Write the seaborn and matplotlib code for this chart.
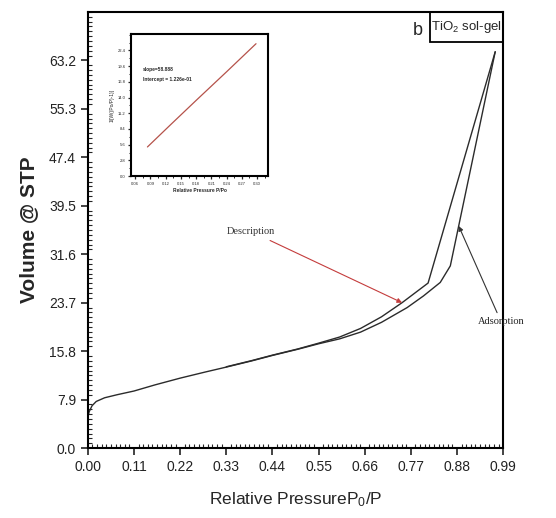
import numpy as np
import pandas as pd
import matplotlib
matplotlib.use('Agg')
import matplotlib.pyplot as plt
import matplotlib.patches as patches
from matplotlib.ticker import AutoMinorLocator
import seaborn as sns

# isotherm data
p_ads = [0.0, 0.003, 0.01, 0.02, 0.04, 0.07, 0.11, 0.16, 0.22, 0.28, 0.33, 0.39, 0.44,
         0.50, 0.55, 0.60, 0.65, 0.70, 0.761, 0.80, 0.84, 0.864, 0.971]
v_ads = [5.0, 5.9, 6.9, 7.6, 8.2, 8.7, 9.3, 10.3, 11.4, 12.4, 13.2, 14.2, 15.1,
         16.1, 17.0, 17.8, 18.9, 20.5, 22.9, 24.8, 27.0, 29.7, 64.6]
p_des = [0.971, 0.811, 0.749, 0.70, 0.65, 0.60, 0.55, 0.50, 0.44, 0.39, 0.33]
v_des = [64.6, 26.9, 23.7, 21.4, 19.5, 18.1, 17.1, 16.15, 15.15, 14.25, 13.25]

x_ticks = [0.00, 0.11, 0.22, 0.33, 0.44, 0.55, 0.66, 0.77, 0.88, 0.99]
y_ticks = [0.0, 7.9, 15.8, 23.7, 31.6, 39.5, 47.4, 55.3, 63.2]

# BET inset
bet_x = [0.084, 0.13, 0.18, 0.24, 0.298]
bet_y = [5.2, 9.2, 13.5, 18.6, 23.6]
bet_xticks = [0.06, 0.09, 0.12, 0.15, 0.18, 0.21, 0.24, 0.27, 0.30]
bet_yticks = [0.0, 2.8, 5.6, 8.4, 11.2, 14.0, 16.8, 19.6, 22.4]

sns.set_style('ticks')
plt.rcParams['font.family'] = ['Liberation Sans', 'DejaVu Sans']

ads = pd.DataFrame({'p': p_ads, 'v': v_ads})
des = pd.DataFrame({'p': p_des, 'v': v_des})

fig = plt.figure(figsize=(5.56, 5.18), dpi=100)
ax = fig.add_axes([0.158, 0.135, 0.747, 0.842])

sns.lineplot(data=ads, x='p', y='v', sort=False, color='#2b2b2b', lw=1.0, ax=ax)
sns.lineplot(data=des, x='p', y='v', sort=False, color='#2b2b2b', lw=1.0, ax=ax)

ax.set_xlim(0, 0.99)
ax.set_ylim(0, 71.1)
ax.set_xticks(x_ticks)
ax.set_xticklabels([f'{t:.2f}' for t in x_ticks])
ax.set_yticks(y_ticks)
ax.set_yticklabels([f'{t:.1f}' for t in y_ticks])
ax.xaxis.set_minor_locator(AutoMinorLocator(10))
ax.yaxis.set_minor_locator(AutoMinorLocator(10))
ax.tick_params(which='major', direction='out', length=5, width=1.2, labelsize=10, colors='#222222')
ax.tick_params(which='minor', direction='in', length=3, width=0.8)
for s in ax.spines.values():
    s.set_linewidth(1.5)
    s.set_color('black')

ax.set_xlabel('Relative Pressure$\\mathregular{P_0}$/P', fontsize=12.5, labelpad=12)
ax.set_ylabel('Volume @ STP', fontsize=15, fontweight='bold', labelpad=8)

# label box
ax.add_patch(patches.Rectangle((0.824, 0.931), 0.176, 0.069, transform=ax.transAxes,
                               fill=False, lw=1.3, color='black', clip_on=False))
ax.text(0.912, 0.966, 'TiO$\\mathregular{_2}$ sol-gel', transform=ax.transAxes,
        ha='center', va='center', fontsize=9.5)
ax.text(0.795, 0.958, 'b', transform=ax.transAxes, ha='center', va='center', fontsize=13)

# annotations
ax.annotate('Description', xy=(0.749, 23.7), xytext=(0.389, 35.3),
            fontsize=7.5, family=['Liberation Serif'], color='#333333',
            ha='center', va='center',
            arrowprops=dict(arrowstyle='-|>', color='#c43c3c', lw=0.8, mutation_scale=7,
                            shrinkA=2, shrinkB=0))
ax.annotate('Adsorption', xy=(0.884, 36.2), xytext=(0.985, 20.6),
            fontsize=7.5, family=['Liberation Serif'], color='#222222',
            ha='center', va='center',
            arrowprops=dict(arrowstyle='-|>', color='#333333', lw=0.8, mutation_scale=7,
                            shrinkA=1, shrinkB=0))

# inset BET plot
axi = fig.add_axes([0.236, 0.660, 0.246, 0.274])
bet = pd.DataFrame({'x': bet_x, 'y': bet_y})
sns.lineplot(data=bet, x='x', y='y', color='#b5524a', lw=0.9, ax=axi)
axi.set_xlim(0.052, 0.3216)
axi.set_ylim(0, 25.3)
axi.set_xticks(bet_xticks)
axi.set_xticklabels([f'{t:.2f}' for t in bet_xticks])
axi.set_yticks(bet_yticks)
axi.set_yticklabels([f'{t:.1f}' for t in bet_yticks])
axi.xaxis.set_minor_locator(AutoMinorLocator(2))
axi.yaxis.set_minor_locator(AutoMinorLocator(2))
axi.tick_params(which='major', direction='out', length=2.5, width=0.9, labelsize=3, pad=1.5)
axi.tick_params(which='minor', direction='out', length=1.5, width=0.7)
for s in axi.spines.values():
    s.set_linewidth(1.5)
    s.set_color('black')
axi.set_xlabel('Relative Pressure P/Po', fontsize=3.5, fontweight='bold', labelpad=2)
axi.set_ylabel('1/[W((Po/P)-1)]', fontsize=3.5, labelpad=2)
axi.text(0.088, 0.74, 'slope=58.888', transform=axi.transAxes, fontsize=3.5, fontweight='bold')
axi.text(0.088, 0.67, 'Intercept = 1.226e-01', transform=axi.transAxes, fontsize=3.5, fontweight='bold')

fig.savefig('out.png', dpi=100)
